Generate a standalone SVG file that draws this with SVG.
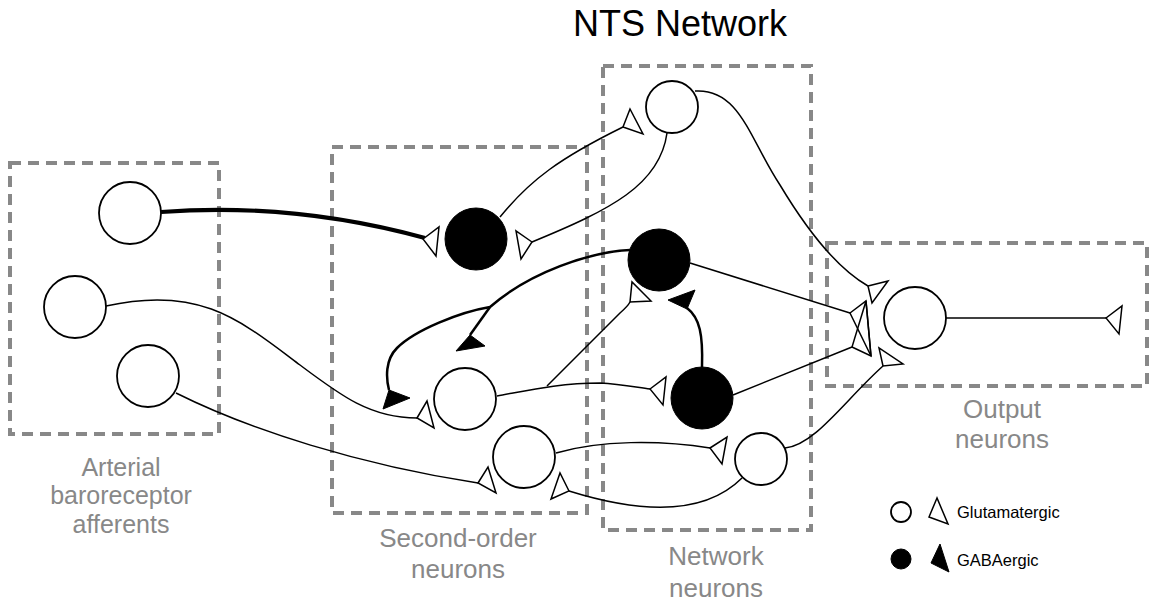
<svg xmlns="http://www.w3.org/2000/svg" width="1151" height="604" viewBox="0 0 1151 604">
<style>
.box{fill:none;stroke:#888;stroke-width:4;stroke-dasharray:11 7}
.cw{fill:#fff;stroke:#000;stroke-width:1.8}
.cb{fill:#000;stroke:#000;stroke-width:1}
.ax{fill:none;stroke:#000;stroke-width:1.5}
.axt{fill:none;stroke:#000;stroke-width:4.2}
.gax{fill:none;stroke:#000;stroke-width:2.5}
.tw{fill:#fff;stroke:#000;stroke-width:1.5;stroke-linejoin:miter}
.tn{fill:none;stroke:#000;stroke-width:1.5;stroke-linejoin:miter}
.tb{fill:#000;stroke:#000;stroke-width:1;stroke-linejoin:miter}
.lbl{font-family:"Liberation Sans",Arial,Helvetica,sans-serif;font-size:26px;fill:#888;text-anchor:middle}
.lbs{font-size:25px}
.title{font-family:"Liberation Sans",Arial,Helvetica,sans-serif;font-size:36px;fill:#000;text-anchor:middle}
.leg{font-family:"Liberation Sans",Arial,Helvetica,sans-serif;font-size:16.5px;fill:#000}
</style>
<rect width="1151" height="604" fill="#fff"/>
<text class="title" x="680" y="36">NTS Network</text>
<g id="groups">
<rect class="box" x="10" y="163" width="209" height="271"/>
<rect class="box" x="332" y="147" width="255" height="366"/>
<rect class="box" x="603" y="66" width="208" height="464"/>
<rect class="box" x="827" y="243" width="320" height="143"/>
</g>
<g id="labels">
<text class="lbl lbs" x="121" y="476">Arterial</text>
<text class="lbl lbs" x="121" y="504">baroreceptor</text>
<text class="lbl lbs" x="121" y="533">afferents</text>
<text class="lbl" x="458" y="547">Second-order</text>
<text class="lbl" x="458" y="578">neurons</text>
<text class="lbl" x="716" y="565">Network</text>
<text class="lbl" x="716" y="597">neurons</text>
<text class="lbl" x="1002" y="418">Output</text>
<text class="lbl" x="1002" y="448">neurons</text>
</g>
<g id="connectors">
<path class="axt" d="M161,212 C240,206 330,212 425,238"/>
<path class="ax" d="M667,133 C660,185 610,210 532,242"/>
<path class="ax" d="M500,217 C530,180 560,158 623,127"/>
<path class="ax" d="M695,91 C740,88 750,140 780,185 C810,235 840,270 868,286"/>
<path class="ax" d="M690,263 L850,313"/>
<path class="ax" d="M733,395 L852,347"/>
<path class="ax" d="M785,448 C815,445 845,400 883,366"/>
<path class="ax" d="M946,318 L1106,318"/>
<path class="ax" d="M106,306 C200,285 240,320 300,365 C340,395 370,418 417,418"/>
<path class="ax" d="M176,393 C250,430 360,465 478,483"/>
<path class="ax" d="M497,396 C530,390 560,383 600,383 C620,384 635,387 650,389"/>
<path class="ax" d="M547,386 L620,313 Q628,306 630,302"/>
<path class="ax" d="M556,453 C600,440 660,440 710,448"/>
<path class="ax" d="M742,478 C700,520 630,510 569,491"/>
<path class="gax" d="M630,250 C590,252 530,272 490,307 C460,312 415,330 397,348 C385,360 386,378 389,390"/>
<path class="gax" d="M490,307 L470,335"/>
<path class="gax" d="M702,367 C703,335 700,318 687,308"/>
<polygon class="tw" points="423,239 439,227 436,256"/>
<polygon class="tw" points="532,242 516,231 521,259"/>
<polygon class="tw" points="623,127 630,109 643,134"/>
<polygon class="tw" points="868,286 888,281 872,303"/>
<polygon class="tn" points="850,313 866,301 871,356"/>
<polygon class="tn" points="852,347 871,356 866,301"/>
<polygon class="tw" points="883,366 879,348 903,364"/>
<polygon class="tw" points="1106,318 1122,306 1119,334"/>
<polygon class="tw" points="417,418 427,401 434,428"/>
<polygon class="tw" points="478,483 488,467 496,493"/>
<polygon class="tw" points="650,389 666,377 663,405"/>
<polygon class="tw" points="630,302 632,282 651,301"/>
<polygon class="tw" points="710,448 727,437 722,464"/>
<polygon class="tw" points="569,491 560,473 551,499"/>
<polygon class="tb" points="383,409 389,390 410,398"/>
<polygon class="tb" points="456,351 470,335 485,346"/>
<polygon class="tb" points="668,300 695,290 687,309"/>
</g>
<g id="A1"><circle class="cw" cx="130" cy="213" r="31"/></g>
<g id="A2"><circle class="cw" cx="75" cy="307" r="31"/></g>
<g id="A3"><circle class="cw" cx="148" cy="376" r="31"/></g>
<g id="S1"><circle class="cb" cx="476" cy="239" r="31"/></g>
<g id="S2"><circle class="cw" cx="465" cy="399" r="31"/></g>
<g id="S3"><circle class="cw" cx="524" cy="457" r="31"/></g>
<g id="N1"><circle class="cw" cx="672" cy="107" r="26"/></g>
<g id="N2"><circle class="cb" cx="659" cy="260" r="31"/></g>
<g id="N3"><circle class="cb" cx="702" cy="398" r="31"/></g>
<g id="N4"><circle class="cw" cx="761" cy="459" r="26"/></g>
<g id="O1"><circle class="cw" cx="915" cy="318" r="31"/></g>
<g id="legend">
<circle class="cw" cx="901" cy="512" r="10"/>
<polygon class="tw" points="937,498 929,517 948,524"/>
<text class="leg" x="957" y="518">Glutamatergic</text>
<circle class="cb" cx="901" cy="559" r="10"/>
<polygon class="tb" points="940,544 931,563 949,572"/>
<text class="leg" x="957" y="566">GABAergic</text>
</g>
</svg>
